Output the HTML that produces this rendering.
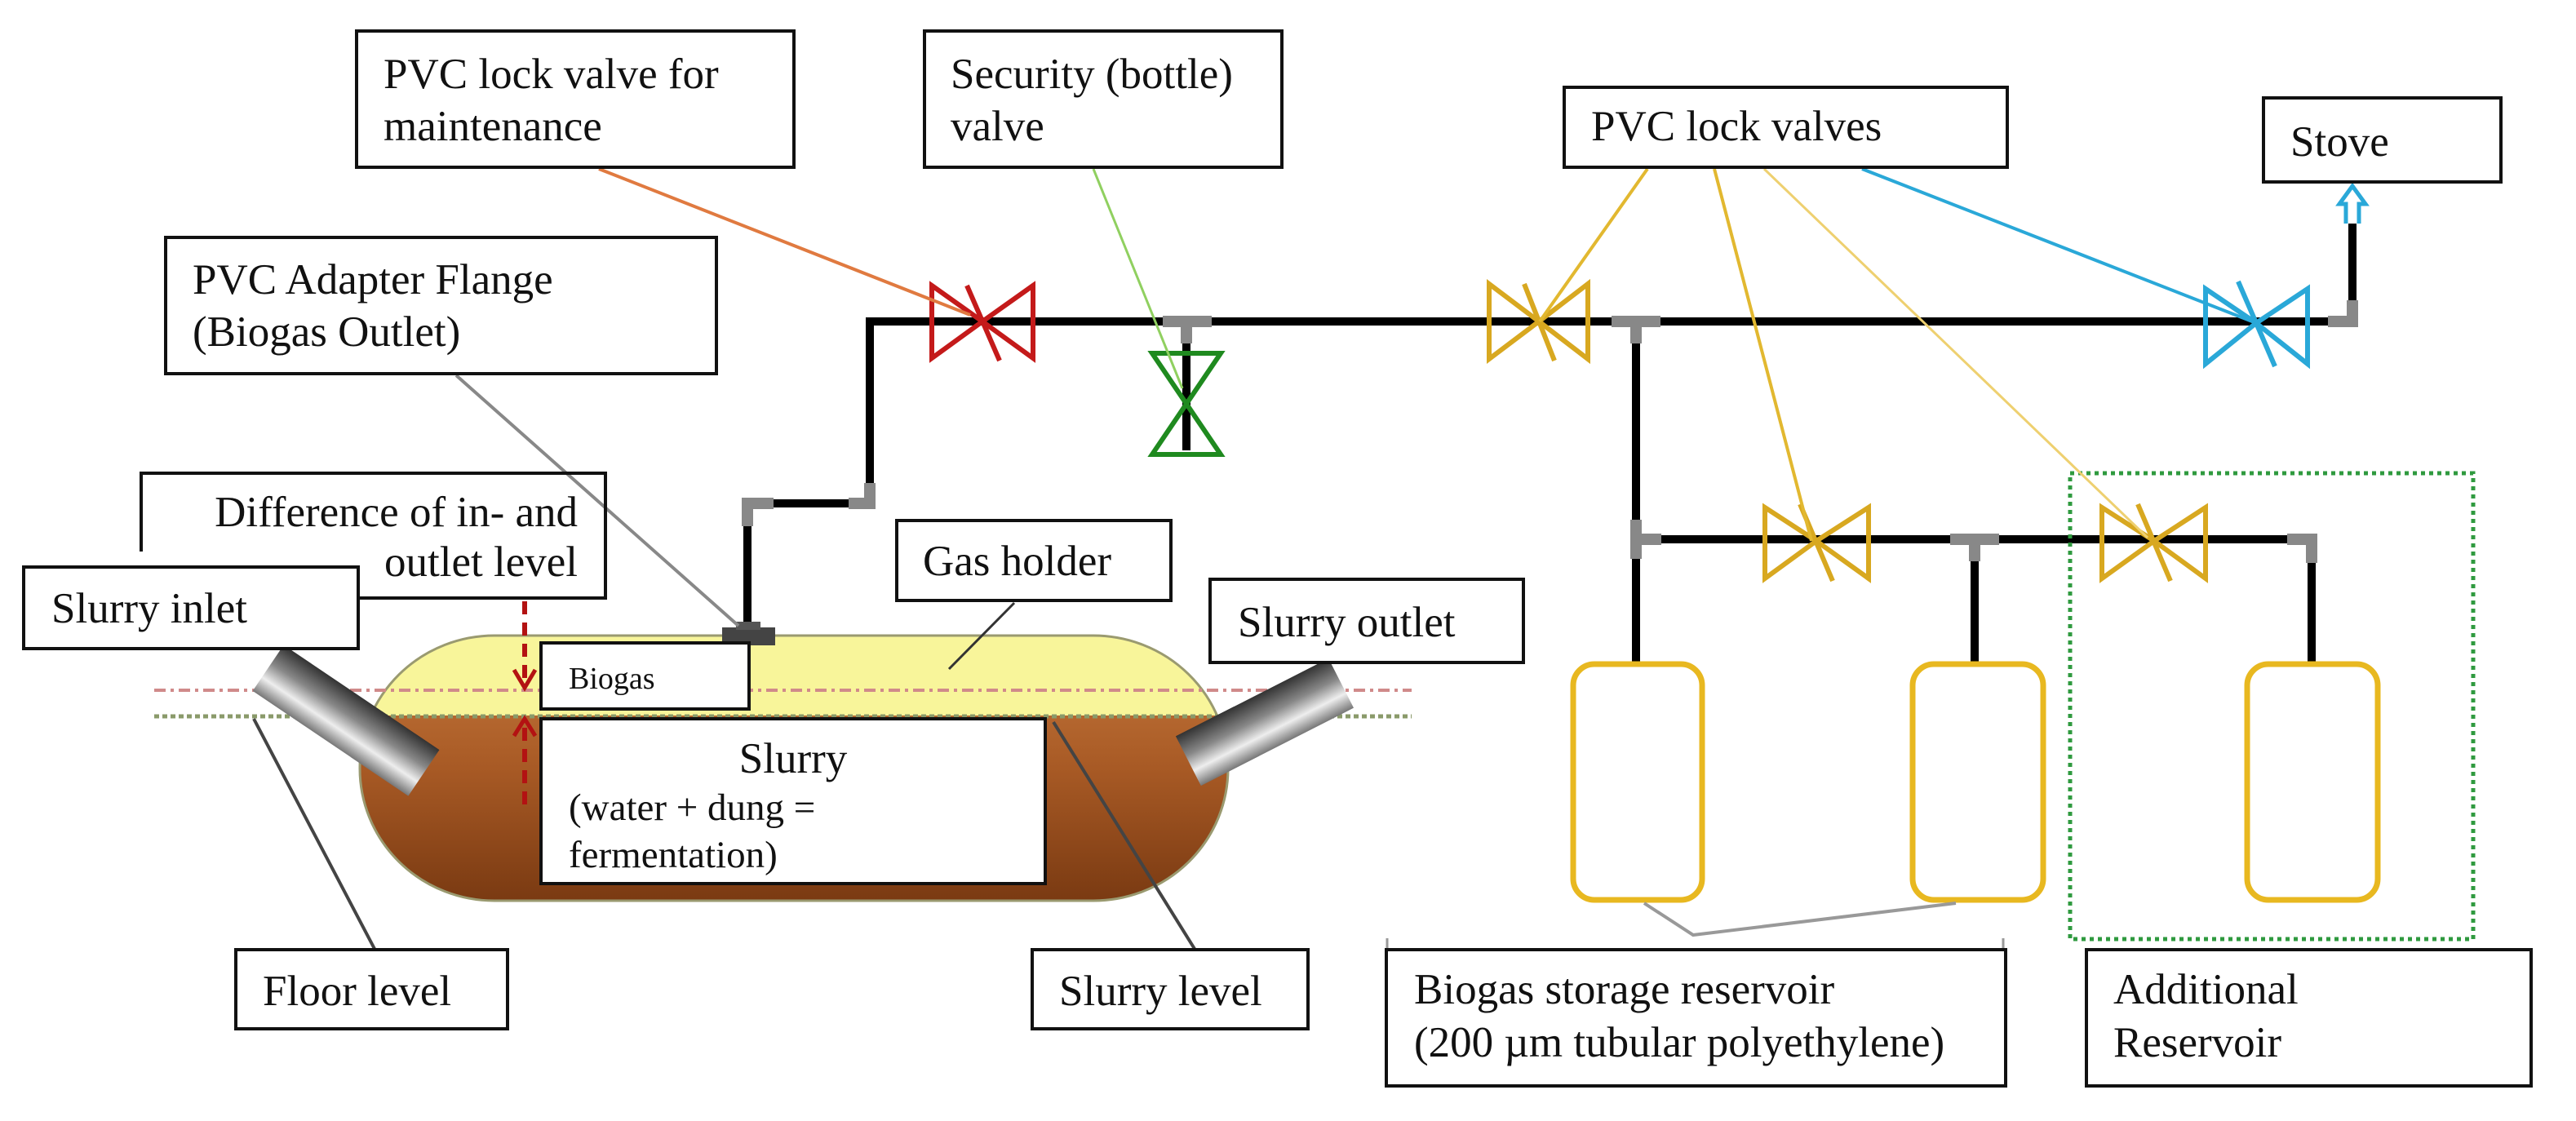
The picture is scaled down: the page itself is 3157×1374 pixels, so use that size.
<!DOCTYPE html>
<html><head><meta charset="utf-8"><style>
html,body{margin:0;padding:0;background:#fff;overflow:hidden}
svg{display:block}
text{font-family:"Liberation Serif",serif;fill:#111}
</style></head><body>
<svg width="3157" height="1374" viewBox="0 0 3157 1374" xmlns="http://www.w3.org/2000/svg">
<defs>
<clipPath id="tk"><rect x="441" y="779" width="1064" height="325" rx="165" ry="162"/></clipPath>
<linearGradient id="br" x1="0" y1="0" x2="0" y2="1">
<stop offset="0" stop-color="#c77a3e"/><stop offset="0.5" stop-color="#a85a25"/><stop offset="1" stop-color="#7a3a12"/></linearGradient>
<linearGradient id="pipeg" x1="0" y1="0" x2="0" y2="1">
<stop offset="0" stop-color="#333"/><stop offset="0.4" stop-color="#888"/><stop offset="0.7" stop-color="#eee"/><stop offset="1" stop-color="#777"/></linearGradient>
</defs>

<g clip-path="url(#tk)">
<rect x="441" y="779" width="1064" height="325" fill="url(#br)"/>
<rect x="441" y="779" width="1064" height="98" fill="#f8f59a"/>
</g>
<rect x="441" y="779" width="1064" height="325" rx="165" ry="162" fill="none" stroke="#9a9a70" stroke-width="3"/>

<line x1="189" y1="846" x2="1730" y2="846" stroke="#d08a8a" stroke-width="4" stroke-dasharray="14 6 4 6"/>
<line x1="189" y1="878" x2="1730" y2="878" stroke="#8a9a6a" stroke-width="5" stroke-dasharray="6 4"/>

<g transform="translate(424,883) rotate(34)">
<rect x="-115" y="-34" width="230" height="68" fill="url(#pipeg)"/>
<rect x="30" y="-34" width="85" height="68" fill="url(#pipeg)" opacity="0.9"/>
</g>
<g transform="translate(1550,885) rotate(-27)">
<rect x="-105" y="-34" width="210" height="68" fill="url(#pipeg)"/>
<rect x="-105" y="-34" width="80" height="68" fill="url(#pipeg)" opacity="0.9"/>
</g>

<line x1="643" y1="737" x2="643" y2="838" stroke="#b31212" stroke-width="6" stroke-dasharray="16 10"/>
<polyline points="630,821 643,843 656,821" fill="none" stroke="#b31212" stroke-width="5"/>
<line x1="643" y1="986" x2="643" y2="885" stroke="#b31212" stroke-width="6" stroke-dasharray="16 10"/>
<polyline points="630,902 643,881 656,902" fill="none" stroke="#b31212" stroke-width="5"/>

<g stroke="#000" stroke-width="10" fill="none">
<polyline points="916,770 916,617 1066,617 1066,394 2883,394 2883,274"/>
<line x1="2005" y1="394" x2="2005" y2="813"/>
<line x1="2005" y1="661" x2="2833" y2="661"/>
<line x1="2420" y1="661" x2="2420" y2="813"/>
<line x1="2833" y1="661" x2="2833" y2="813"/>
<line x1="1454" y1="394" x2="1454" y2="552"/>
</g>
<g stroke="#888" stroke-width="14" fill="none">
<polyline points="916,645 916,617 948,617"/>
<polyline points="1040,617 1066,617 1066,592"/>
<line x1="1425" y1="394" x2="1485" y2="394"/><line x1="1454" y1="394" x2="1454" y2="421"/>
<line x1="1975" y1="394" x2="2035" y2="394"/><line x1="2005" y1="394" x2="2005" y2="421"/>
<line x1="2005" y1="637" x2="2005" y2="685"/><line x1="2005" y1="661" x2="2036" y2="661"/>
<line x1="2390" y1="661" x2="2450" y2="661"/><line x1="2420" y1="661" x2="2420" y2="688"/>
<polyline points="2803,661 2833,661 2833,690"/>
<polyline points="2853,394 2883,394 2883,368"/>
</g>
<rect x="885" y="769" width="65" height="22" fill="#444"/>
<rect x="902" y="762" width="30" height="10" fill="#555"/>

<path d="M2875,274 L2875,250 L2867,250 L2883,228 L2899,250 L2891,250 L2891,274" fill="#fff" stroke="#2aa8d8" stroke-width="5"/>

<g fill="none" stroke-width="6">
<g stroke="#c41a1a"><path d="M1142,350 L1204,394 L1142,439 Z M1266,350 L1204,394 L1266,439 Z"/><line x1="1185" y1="350" x2="1225" y2="442"/></g>
<g stroke="#1f8a1f"><path d="M1412,433 L1454,495 L1496,433 Z M1412,557 L1454,495 L1496,557 Z"/></g>
<g stroke="#d8a820"><path d="M1825,348 L1886,394 L1825,440 Z M1946,348 L1886,394 L1946,440 Z"/><line x1="1868" y1="348" x2="1905" y2="442"/></g>
<g stroke="#d8a820"><path d="M2163,622 L2226,663 L2163,709 Z M2290,622 L2226,663 L2290,709 Z"/><line x1="2206" y1="618" x2="2246" y2="712"/></g>
<g stroke="#d8a820"><path d="M2576,622 L2640,663 L2576,709 Z M2703,622 L2640,663 L2703,709 Z"/><line x1="2620" y1="618" x2="2660" y2="712"/></g>
<g stroke="#2aa8d8"><path d="M2703,354 L2765,396 L2703,446 Z M2828,354 L2765,396 L2828,446 Z"/><line x1="2743" y1="345" x2="2788" y2="449"/></g>
</g>

<g fill="#fff" stroke="#e8b820" stroke-width="7">
<rect x="1928" y="814" width="158" height="289" rx="26"/>
<rect x="2344" y="814" width="160" height="289" rx="26"/>
<rect x="2754" y="814" width="160" height="289" rx="26"/>
</g>
<rect x="2537" y="580" width="494" height="571" fill="none" stroke="#2f9a3f" stroke-width="5" stroke-dasharray="5 5"/>

<line x1="734" y1="207" x2="1189" y2="386" stroke="#e07a40" stroke-width="4"/>
<line x1="1340" y1="207" x2="1449" y2="476" stroke="#90d060" stroke-width="3"/>
<line x1="559" y1="460" x2="905" y2="767" stroke="#888" stroke-width="4"/>
<line x1="1243" y1="739" x2="1163" y2="820" stroke="#333" stroke-width="3"/>
<line x1="459" y1="1163" x2="311" y2="881" stroke="#444" stroke-width="4"/>
<line x1="1464" y1="1163" x2="1291" y2="885" stroke="#444" stroke-width="4"/>
<line x1="2019" y1="207" x2="1887" y2="394" stroke="#e2b830" stroke-width="4"/>
<line x1="2101" y1="207" x2="2220" y2="663" stroke="#e2b830" stroke-width="4"/>
<line x1="2162" y1="207" x2="2632" y2="659" stroke="#eed070" stroke-width="3"/>
<line x1="2282" y1="207" x2="2760" y2="394" stroke="#2aa8d8" stroke-width="4"/>
<polyline points="2015,1107 2075,1146 2397,1107" fill="none" stroke="#999" stroke-width="4"/>
<line x1="1700" y1="1150" x2="1700" y2="1164" stroke="#999" stroke-width="3"/>
<line x1="2455" y1="1150" x2="2455" y2="1164" stroke="#999" stroke-width="3"/>

<g fill="#fff" stroke="#111" stroke-width="4">
<rect x="437" y="38" width="536" height="167"/>
<rect x="1133" y="38" width="438" height="167"/>
<rect x="203" y="291" width="675" height="167"/>
<rect x="1099" y="638" width="336" height="98"/>
<rect x="1483" y="710" width="384" height="102"/>
<rect x="663" y="788" width="255" height="81"/>
<rect x="663" y="881" width="618" height="202"/>
<rect x="289" y="1164" width="333" height="97"/>
<rect x="1265" y="1164" width="338" height="97"/>
<rect x="1917" y="107" width="543" height="98"/>
<rect x="2774" y="120" width="291" height="103"/>
<rect x="1699" y="1164" width="759" height="167"/>
<rect x="2557" y="1164" width="545" height="167"/>
</g>
<polyline points="173,676 173,580 742,580 742,733 439,733" fill="none" stroke="#111" stroke-width="4"/>
<rect x="29" y="695" width="410" height="100" fill="#fff" stroke="#111" stroke-width="4"/>

<g font-size="53">
<text x="470" y="108">PVC lock valve  for</text>
<text x="470" y="172">maintenance</text>
<text x="1165" y="108">Security (bottle)</text>
<text x="1165" y="172">valve</text>
<text x="236" y="360">PVC Adapter Flange</text>
<text x="236" y="424">(Biogas Outlet)</text>
<text x="708" y="645" text-anchor="end">Difference of in- and</text>
<text x="708" y="706" text-anchor="end">outlet level</text>
<text x="63" y="763">Slurry inlet</text>
<text x="1131" y="705">Gas holder</text>
<text x="1517" y="780">Slurry outlet</text>
<text x="972" y="947" text-anchor="middle">Slurry</text>
<text x="322" y="1232">Floor level</text>
<text x="1298" y="1232">Slurry level</text>
<text x="1950" y="172">PVC lock valves</text>
<text x="2807" y="191">Stove</text>
<text x="1733" y="1230">Biogas  storage reservoir</text>
<text x="1733" y="1295">(200 µm tubular polyethylene)</text>
<text x="2590" y="1230">Additional</text>
<text x="2590" y="1295">Reservoir</text>
</g>
<text x="697" y="844" font-size="38">Biogas</text>
<g font-size="47">
<text x="697" y="1005">(water + dung =</text>
<text x="697" y="1063">fermentation)</text>
</g>
</svg>
</body></html>
